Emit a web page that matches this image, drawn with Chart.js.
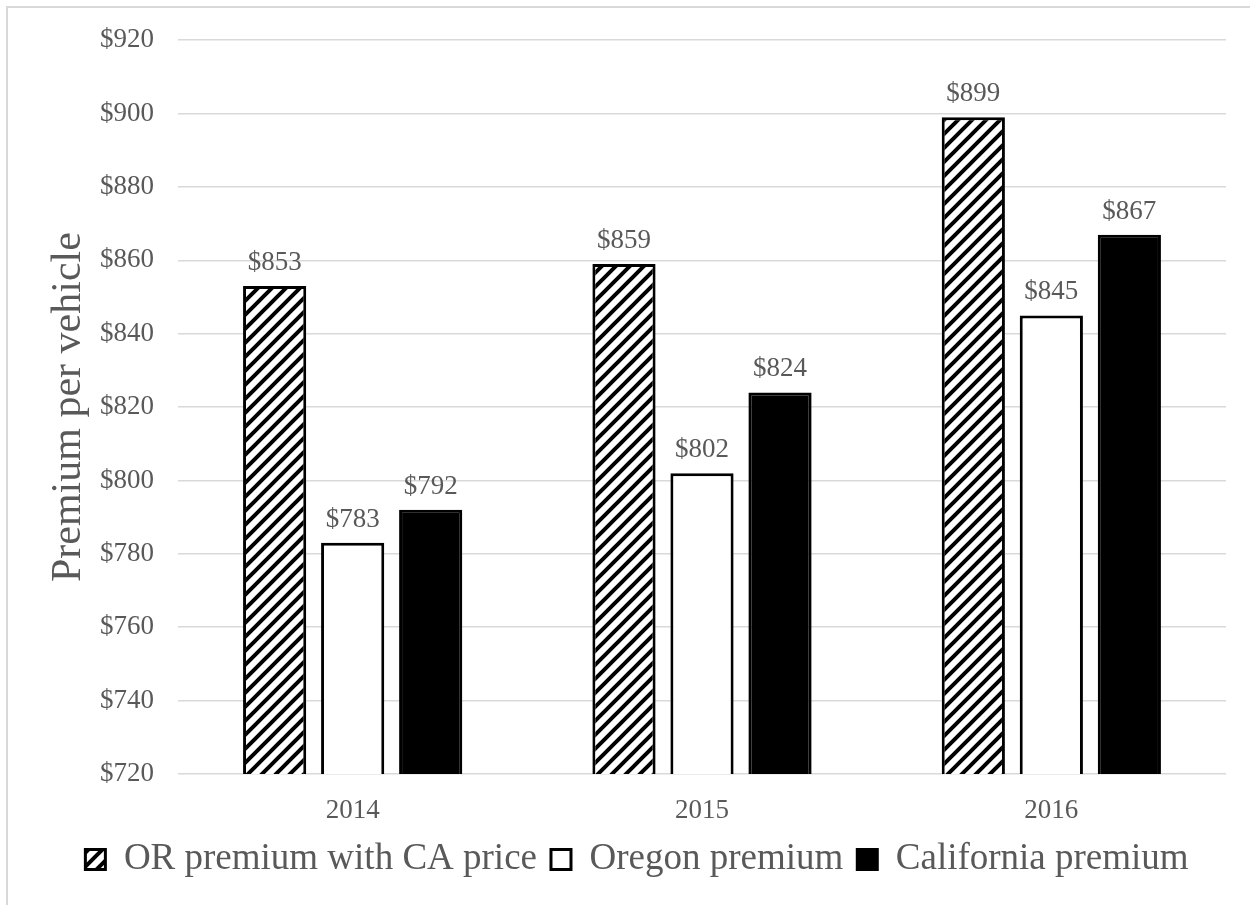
<!DOCTYPE html>
<html>
<head>
<meta charset="utf-8">
<script src="https://cdn.jsdelivr.net/npm/chart.js@4/dist/chart.umd.min.js"></script>
<style>
  html, body { margin: 0; padding: 0; background: #fff; overflow: hidden; }
  #wrap { position: relative; width: 1250px; height: 905px; }
  #frame { position: absolute; left: 6px; top: 6px; width: 1400px; height: 1100px;
           border: 2px solid #d9d9d9; pointer-events: none; box-sizing: border-box; }
  canvas { position: absolute; left: 0; top: 0; }
</style>
</head>
<body>
<div id="wrap">
  <canvas id="c" width="1250" height="905"></canvas>
  <div id="frame"></div>
</div>
<script>
const categories = ['2014', '2015', '2016'];
const seriesNames = ['OR premium with CA price', 'Oregon premium', 'California premium'];
const orWithCaPrice = [853, 859, 899];
const oregonPremium = [783, 802, 845];
const californiaPremium = [792, 824, 867];
const yTicks = [720, 740, 760, 780, 800, 820, 840, 860, 880, 900, 920];
const yTitle = 'Premium per vehicle';

function makeHatch() {
  const s = 14;
  const c = document.createElement('canvas');
  c.width = s; c.height = s;
  const g = c.getContext('2d');
  g.fillStyle = '#fff';
  g.fillRect(0, 0, s, s);
  g.strokeStyle = '#000';
  g.lineWidth = 4;
  g.lineCap = 'square';
  g.beginPath();
  g.moveTo(-s, 2 * s); g.lineTo(2 * s, -s);
  g.moveTo(-s, s); g.lineTo(s, -s);
  g.moveTo(0, 2 * s); g.lineTo(2 * s, 0);
  g.stroke();
  return g.createPattern(c, 'repeat');
}
const ctx = document.getElementById('c').getContext('2d');
const hatch = makeHatch();

const FONT = "'Liberation Serif', 'Times New Roman', serif";
const TXT = '#595959';

const valueLabels = {
  id: 'valueLabels',
  afterDatasetsDraw(chart) {
    const c = chart.ctx;
    c.save();
    c.font = '27px ' + FONT;
    c.fillStyle = TXT;
    c.textAlign = 'center';
    c.textBaseline = 'alphabetic';
    chart.data.datasets.forEach((ds, i) => {
      const meta = chart.getDatasetMeta(i);
      meta.data.forEach((el, j) => {
        c.fillText('$' + Math.round(ds.data[j]), el.x, el.y - 16);
      });
    });
    c.restore();
  }
};

new Chart(ctx, {
  type: 'bar',
  data: {
    labels: categories,
    datasets: [
      { label: seriesNames[0], data: orWithCaPrice, backgroundColor: hatch, borderColor: '#000', borderWidth: 3 },
      { label: seriesNames[1], data: oregonPremium, backgroundColor: '#fff', borderColor: '#000', borderWidth: 3 },
      { label: seriesNames[2], data: californiaPremium, backgroundColor: '#000', borderColor: '#000', borderWidth: 3 }
    ]
  },
  options: {
    responsive: false,
    animation: false,
    events: [],
    layout: { padding: { left: 48, right: 24, top: 37, bottom: 17 } },
    datasets: { bar: { categoryPercentage: 0.67, barPercentage: 0.81 } },
    plugins: {
      tooltip: { enabled: false },
      legend: {
        position: 'bottom',
        labels: {
          font: { family: FONT, size: 37 },
          color: TXT,
          boxWidth: 20,
          boxHeight: 20,
          padding: 14
        }
      }
    },
    scales: {
      x: {
        grid: { display: false, drawTicks: false },
        border: { display: false },
        ticks: { font: { family: FONT, size: 27 }, color: TXT, padding: 21 },
        afterFit(s) { s.height = 53; }
      },
      y: {
        min: yTicks[0],
        max: yTicks[yTicks.length - 1],
        afterBuildTicks(s) { s.ticks = yTicks.map(v => ({ value: v })); },
        grid: { color: '#d9d9d9', lineWidth: 1.5, drawTicks: false },
        border: { display: false },
        ticks: {
          font: { family: FONT, size: 27 }, color: TXT, padding: 24,
          callback: v => '$' + v
        },
        title: {
          display: true, text: yTitle, color: TXT,
          font: { family: FONT, size: 42, lineHeight: 0.9 },
          padding: { top: 2, bottom: 0 }
        },
        afterFit(s) { s.width = 130; }
      }
    }
  },
  plugins: [valueLabels]
});
</script>
</body>
</html>
